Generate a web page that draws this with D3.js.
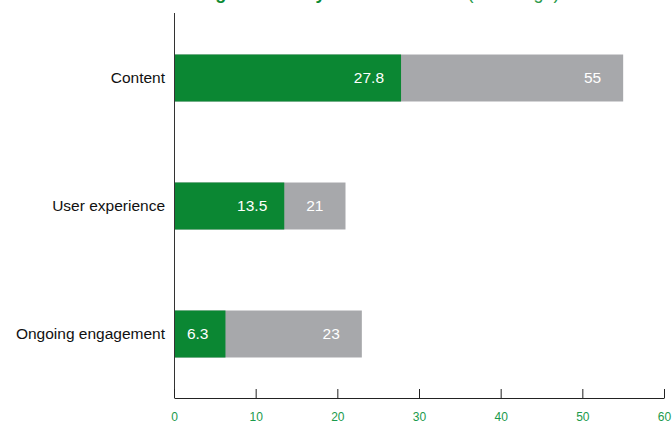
<!DOCTYPE html>
<html>
  <head>
    <meta charset="utf-8">
    <title>Scores by theme</title>
    <script src="https://d3js.org/d3.v7.min.js"></script>
    <style>
      body { margin: 0; background: #fff; }
      svg { display: block; font-family: "Liberation Sans", Arial, sans-serif; }
      .cat { font-size: 15.5px; fill: #111; }
      .val { font-size: 15.5px; fill: #fff; }
      .xAxis text { font-size: 12px; fill: #1a9a4c; }
      .xAxis path, .xAxis line { stroke: #222; }
    </style>
  </head>
  <body>
    <svg id="chart" width="672" height="423"></svg>
    <script>
      // data
      categories = ["Content", "User experience", "Ongoing engagement"];
      greenValues = [27.8, 13.5, 6.3];
      greyValues = [55, 21, 23];
      xTicks = [0, 10, 20, 30, 40, 50, 60];

      svg = d3.select("#chart");

      x = d3.scaleLinear()
        .domain([0, 60])
        .range([174, 664]);
      y = d3.scaleBand()
        .domain(categories)
        .range([14, 398])
        .paddingInner(0.633)
        .paddingOuter(0.3165);

      rows = categories.map(function(d, i) {
        return { cat: d, green: greenValues[i], grey: greyValues[i] };
      });

      // title, mostly cut off above the frame (as in the original)
      title = svg.append("text")
        .attr("x", 166)
        .attr("y", -1)
        .style("font-size", "18px");
      title.append("tspan")
        .style("font-weight", "bold")
        .style("fill", "#0b8a33")
        .text("Average scores by theme and area");
      title.append("tspan")
        .style("fill", "#2a9a4a")
        .text(" (% change)");

      // grey bars (totals) behind green bars
      svg.selectAll(".grey")
        .data(rows)
        .enter().append("rect")
          .classed("grey", true)
          .attr("x", x(0))
          .attr("y", function(d) { return y(d.cat); })
          .attr("width", function(d) { return x(d.grey) - x(0); })
          .attr("height", y.bandwidth())
          .style("fill", "#a7a8ab");
      svg.selectAll(".green")
        .data(rows)
        .enter().append("rect")
          .classed("green", true)
          .attr("x", x(0))
          .attr("y", function(d) { return y(d.cat); })
          .attr("width", function(d) { return x(d.green) - x(0); })
          .attr("height", y.bandwidth())
          .style("fill", "#0b8733");

      // value labels
      svg.selectAll(".greyVal")
        .data(rows)
        .enter().append("text")
          .attr("class", "val")
          .attr("x", function(d) { return x(d.grey) - 22; })
          .attr("y", function(d) { return y(d.cat) + y.bandwidth() / 2; })
          .attr("dy", "0.35em")
          .attr("text-anchor", "end")
          .text(function(d) { return d.grey; });
      svg.selectAll(".greenVal")
        .data(rows)
        .enter().append("text")
          .attr("class", "val")
          .attr("x", function(d) { return x(d.green) - 17; })
          .attr("y", function(d) { return y(d.cat) + y.bandwidth() / 2; })
          .attr("dy", "0.35em")
          .attr("text-anchor", "end")
          .text(function(d) { return d.green; });

      // category labels
      svg.selectAll(".cat")
        .data(rows)
        .enter().append("text")
          .attr("class", "cat")
          .attr("x", x(0) - 9)
          .attr("y", function(d) { return y(d.cat) + y.bandwidth() / 2; })
          .attr("dy", "0.35em")
          .attr("text-anchor", "end")
          .text(function(d) { return d.cat; });

      // y axis line
      svg.append("line")
        .attr("x1", x(0) + 0.5)
        .attr("x2", x(0) + 0.5)
        .attr("y1", 13)
        .attr("y2", 398)
        .style("stroke", "#333");

      // x axis, ticks pointing up
      xAxis = d3.axisBottom(x)
        .tickValues(xTicks)
        .tickSizeInner(-9)
        .tickSizeOuter(0);
      svg.append("g")
        .attr("class", "xAxis")
        .attr("transform", "translate(0, 398)")
        .call(xAxis)
        .call(function(g) { g.selectAll(".tick text").attr("dy", "0.71em").attr("y", 14); });
    </script>
  </body>
</html>
